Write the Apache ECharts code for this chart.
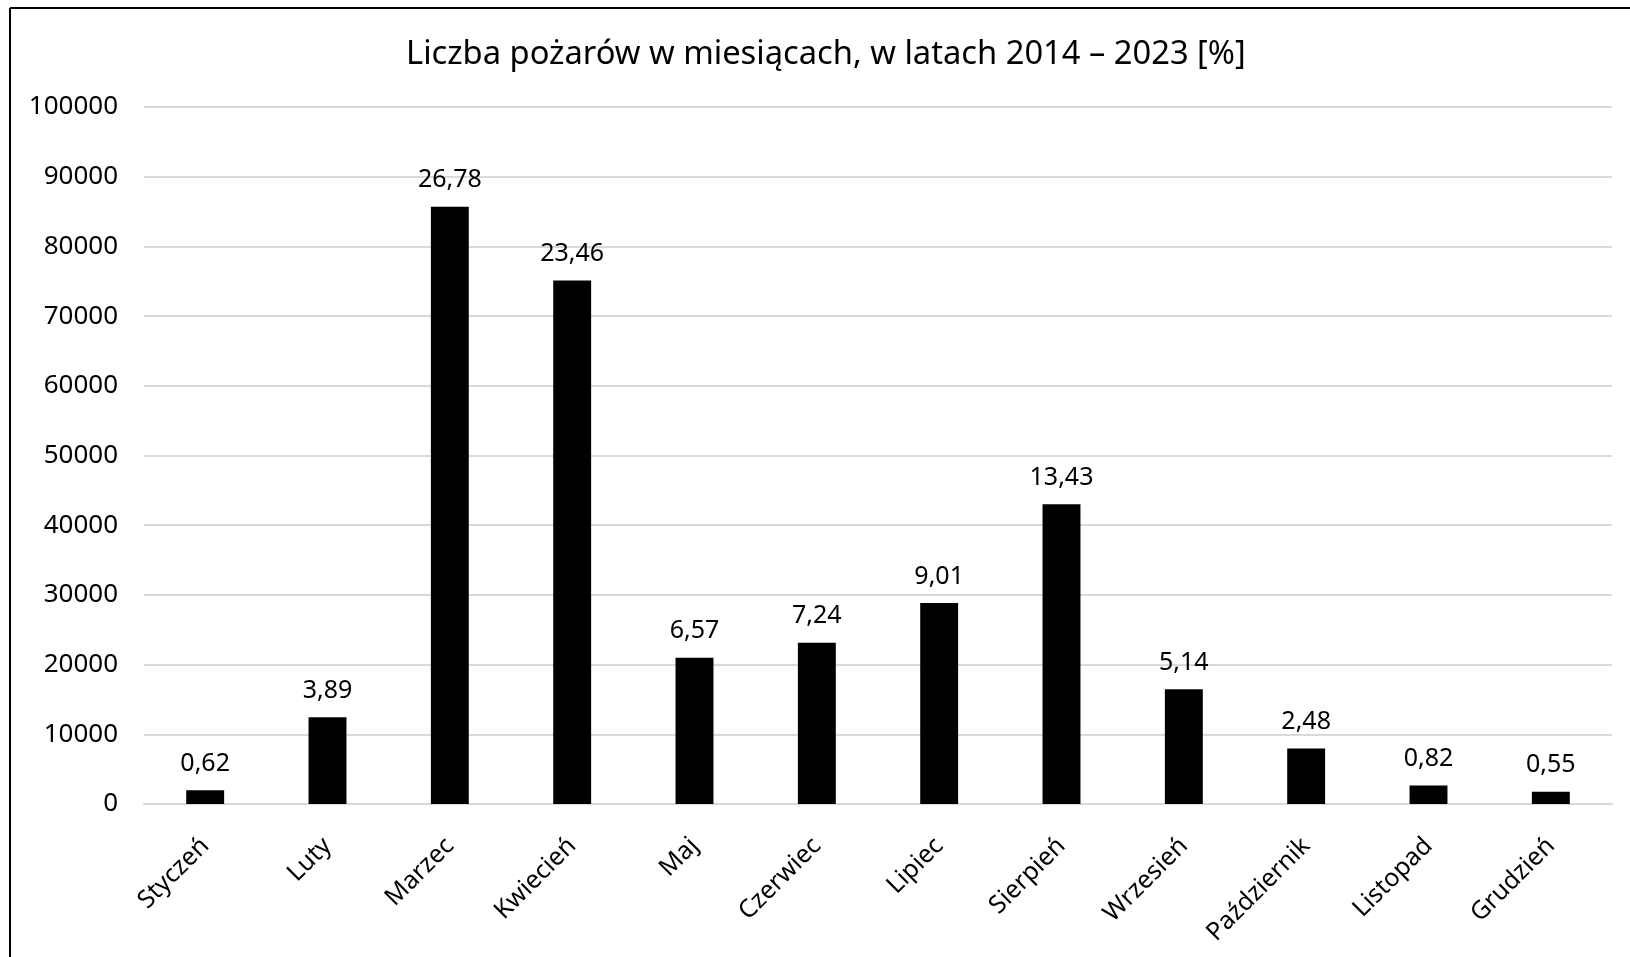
<!DOCTYPE html>
<html>
<head>
<meta charset="utf-8">
<script src="https://cdn.jsdelivr.net/npm/echarts@6/dist/echarts.min.js"></script>
<style>
  html, body { margin: 0; padding: 0; background: #fff; }
  #main { width: 1630px; height: 957px; }
</style>
</head>
<body>
<div id="main"></div>
<script>
// miesiące
var months = ['Styczeń', 'Luty', 'Marzec', 'Kwiecień', 'Maj', 'Czerwiec',
  'Lipiec', 'Sierpień', 'Wrzesień', 'Październik', 'Listopad', 'Grudzień'];
// liczba pożarów
var fires = [1980, 12450, 85700, 75100, 21000, 23150, 28850, 43000, 16450, 7950, 2650, 1750];
// udział procentowy - etykiety nad słupkami
var percents = ['0,62', '3,89', '26,78', '23,46', '6,57', '7,24', '9,01', '13,43', '5,14', '2,48', '0,82', '0,55'];
var yTicks = { min: 0, max: 100000, interval: 10000 };

var font = '"Noto Sans", sans-serif';
var chart = echarts.init(document.getElementById('main'), null, { renderer: 'canvas' });

var option = {
  backgroundColor: '#ffffff',
  animation: false,
  title: {
    text: 'Liczba pożarów w miesiącach, w latach 2014 – 2023 [%]',
    left: 401,
    top: 33,
    textStyle: { color: '#000', fontWeight: 'normal', fontSize: 32.7, fontFamily: font }
  },
  grid: { left: 144, right: 18, top: 107, bottom: 153, containLabel: false },
  xAxis: {
    type: 'category',
    data: months,
    axisLine: { show: true, lineStyle: { color: '#d9d9d9', width: 2 } },
    axisTick: { show: false },
    axisLabel: {
      rotate: 45,
      margin: 38,
      color: '#000',
      fontSize: 25,
      fontFamily: font
    }
  },
  yAxis: {
    type: 'value',
    min: yTicks.min,
    max: yTicks.max,
    interval: yTicks.interval,
    axisLine: { show: false },
    axisTick: { show: false },
    splitLine: { lineStyle: { color: '#d9d9d9', width: 2 } },
    axisLabel: {
      margin: 26,
      color: '#000',
      fontSize: 26,
      fontFamily: font,
      formatter: function (v) { return String(v); }
    }
  },
  series: [{
    type: 'bar',
    data: fires,
    barWidth: '31%',
    itemStyle: { color: '#000' },
    label: {
      show: true,
      position: 'top',
      distance: 14,
      color: '#000',
      fontSize: 25,
      fontFamily: font,
      formatter: function (p) { return percents[p.dataIndex]; }
    }
  }],
  graphic: [
    { type: 'line', shape: { x1: 10, y1: 8, x2: 10, y2: 957 }, style: { stroke: '#000', lineWidth: 2 } },
    { type: 'line', shape: { x1: 10, y1: 8, x2: 1630, y2: 8 }, style: { stroke: '#000', lineWidth: 2 } }
  ]
};

chart.setOption(option);
</script>
</body>
</html>
